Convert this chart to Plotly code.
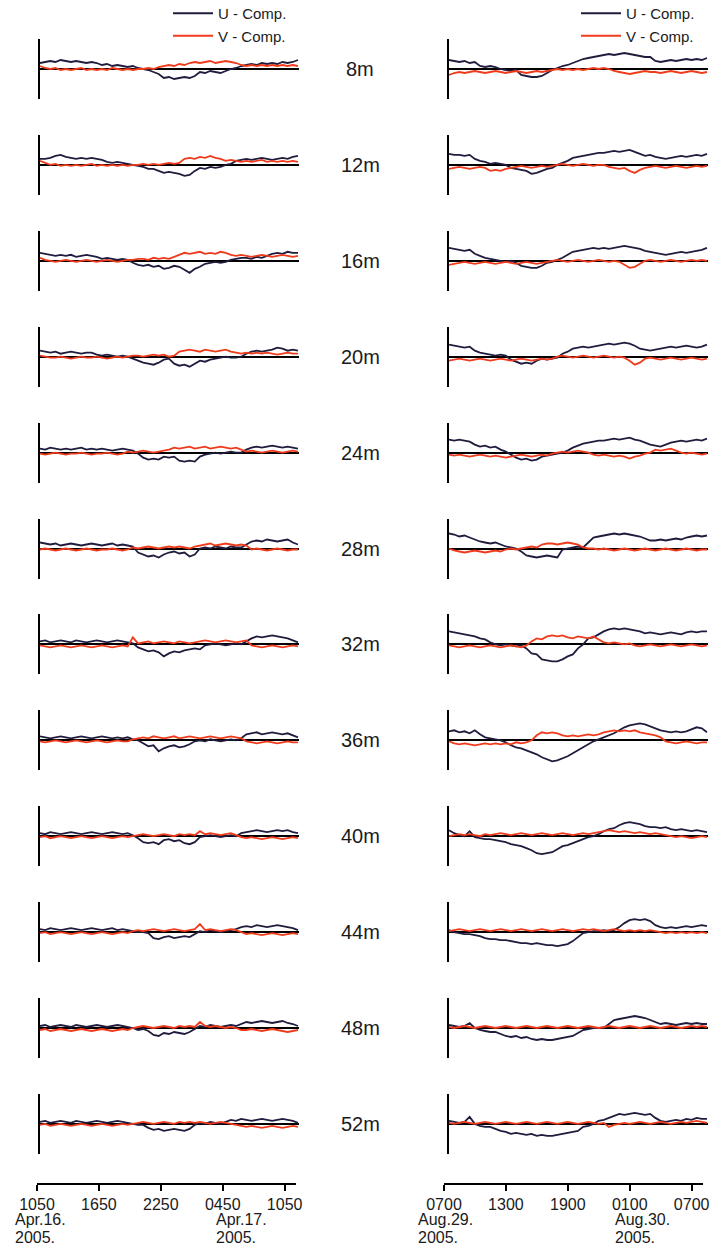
import plotly.graph_objects as go

W, H = 717, 1248

# sample times (hours after first tick) for every series
hours = [0.5 * i for i in range(51)]
depths = ["8m", "12m", "16m", "20m", "24m", "28m", "32m", "36m", "40m", "44m", "48m", "52m"]
tick_hours = [0, 6, 12, 18, 24]
apr_ticktext = ["1050", "1650", "2250", "0450", "1050"]
aug_ticktext = ["0700", "1300", "1900", "0100", "0700"]
apr_dates = [(0, "Apr.16.", "2005."), (18, "Apr.17.", "2005.")]
aug_dates = [(0, "Aug.29.", "2005."), (18, "Aug.30.", "2005.")]
# horizontal nudges (px) of the date blocks, as placed in the original figure
apr_date_shift = [-24, -9]
aug_date_shift = [-28, -17]

# ---- April 16-17 2005 (left column) ----
u_apr_08 = [6,7,8,7,9,8,7,8,7,6, 7,6,4,5,3,4,3,2,3,1, 0,-1,-3,-5,-9,-8,-10,-9,-8,-9, -7,-3,-4,-2,-3,-4,-2,0,1,3, 4,5,4,6,5,6,5,7,6,7,9]
v_apr_08 = [3,1,0,1,-1,0,-1,0,1,-1, 0,-1,0,-1,1,0,-1,0,-1,0, 0,1,0,2,3,4,3,5,4,6, 7,6,7,8,6,7,8,7,6,4, 3,4,3,4,3,4,3,4,3,4,3]
u_apr_12 = [6,6,7,9,10,8,7,6,7,6, 7,6,5,3,2,3,2,1,0,-1, -2,-4,-4,-6,-8,-7,-8,-9,-11,-10, -6,-3,-4,-2,-3,-2,0,1,4,5, 6,5,6,7,6,5,6,7,6,8,9]
v_apr_12 = [4,2,0,1,-1,0,-1,0,-1,0, 1,-1,0,-1,0,-1,0,-1,0,0, 1,0,1,0,1,2,1,2,6,7, 6,8,7,9,7,6,4,5,4,3, 4,3,4,5,3,4,3,4,3,4,3]
u_apr_16 = [8,7,6,5,6,5,6,4,5,6, 5,4,2,3,2,1,2,1,-2,-4, -5,-4,-6,-5,-8,-7,-5,-6,-9,-12, -8,-6,-3,-2,-1,-2,-1,1,2,3, 3,2,4,3,5,7,8,7,9,8,8]
v_apr_16 = [3,1,0,-1,0,1,0,-1,0,1, 0,-1,0,1,0,-1,0,1,1,2, 2,1,3,2,3,2,4,6,8,7, 8,9,7,8,7,9,8,6,5,6, 5,4,5,6,5,4,5,6,5,4,5]
u_apr_20 = [6,5,4,5,3,4,5,4,3,4, 4,2,1,2,1,0,1,0,-2,-4, -6,-7,-8,-6,-3,-2,-7,-9,-8,-10, -7,-4,-5,-3,-2,-1,0,-1,-1,0, 3,5,6,5,6,7,9,8,6,7,6]
v_apr_20 = [1,0,-1,-1,0,-1,-2,-1,0,-1, -1,0,-1,-2,-1,0,-1,0,1,1, 0,1,2,1,2,0,1,5,6,7, 6,5,7,6,5,6,7,5,4,3, 4,3,4,3,4,3,2,3,4,3,3]
u_apr_24 = [4,3,5,4,3,4,3,4,5,3, 4,3,4,3,2,3,4,3,2,-1, -5,-7,-6,-7,-4,-5,-4,-8,-9,-8, -9,-4,-2,-1,0,-1,0,1,0,0, 3,5,6,5,6,7,6,5,6,5,4]
v_apr_24 = [-1,-2,-1,0,-1,-2,-1,-1,0,-1, -2,-1,-1,0,-1,-2,-1,1,0,1, 2,1,0,1,2,3,5,4,5,6, 4,5,6,4,5,6,5,4,5,3, 1,2,1,0,1,2,1,0,1,2,1]
u_apr_28 = [6,5,4,5,3,4,5,4,3,4, 5,4,3,4,5,3,4,3,2,-4, -6,-8,-7,-9,-6,-4,-3,-5,-4,-8, -6,0,1,0,2,1,0,2,1,1, 4,7,8,7,9,8,7,8,9,6,4]
v_apr_28 = [-1,0,-1,-2,-1,0,-1,-2,-1,0, -1,-2,-1,-1,0,-1,-2,-1,1,0, 1,2,1,0,1,2,1,2,1,0, 2,3,4,5,3,4,5,4,3,4, 3,-1,0,-1,-2,-1,0,-1,-2,-1,-1]
u_apr_32 = [3,4,2,3,4,3,2,4,3,2, 3,4,3,2,3,4,3,2,1,-3, -5,-7,-6,-8,-12,-9,-7,-8,-6,-5, -4,-5,-1,0,1,0,-1,0,1,0, 3,6,8,7,8,9,8,7,6,4,2]
v_apr_32 = [-1,-2,-3,-2,-1,-2,-3,-2,-1,-2, -3,-2,-1,-2,-3,-2,-1,-2,7,1, 2,3,1,2,3,2,1,3,2,1, 2,3,4,3,2,3,4,3,2,3, 4,-1,-2,-3,-2,-1,-2,-3,-2,-1,-2]
u_apr_36 = [4,3,2,3,4,3,2,3,4,3, 2,3,4,3,2,3,2,3,1,0, -3,-6,-5,-11,-8,-6,-5,-7,-6,-4, -1,0,-1,1,0,-1,0,1,0,2, 6,7,8,6,7,8,7,6,7,5,3]
v_apr_36 = [-1,-2,-1,0,-1,-2,-1,0,-1,-2, -1,0,-1,-2,-1,0,-1,-1,1,2, 3,2,4,3,2,3,4,2,3,4, 3,2,3,4,3,2,3,4,3,2, -1,-2,-3,-2,-1,-2,-3,-2,-1,-2,-2]
u_apr_40 = [3,2,4,3,2,3,4,3,2,3, 4,3,2,3,4,3,2,3,1,-2, -6,-7,-6,-8,-4,-3,-5,-4,-7,-8, -6,-1,0,1,0,-1,0,1,0,3, 4,5,6,5,4,5,6,5,6,4,3]
v_apr_40 = [-1,0,-2,-1,0,-1,-2,-1,0,-1, -2,-1,0,-1,-2,-1,0,-1,0,1, 2,1,0,1,2,1,0,2,1,2, 1,5,2,3,2,1,2,3,1,-1, -2,-1,-2,-3,-2,-1,-2,-3,-2,-1,-2]
u_apr_44 = [3,2,4,3,2,3,4,3,2,3, 4,3,2,3,4,2,3,2,1,0, 0,-1,-6,-7,-5,-4,-6,-5,-4,-5, -2,1,0,2,1,0,1,2,3,5, 6,5,7,6,5,6,7,6,5,4,2]
v_apr_44 = [-1,0,-2,-1,0,-1,-2,-1,0,-1, -2,-1,0,-1,-2,-1,0,-1,1,2, 1,2,3,2,1,2,3,2,1,2, 3,8,2,3,2,1,2,3,2,0, -2,-1,-2,-3,-2,-1,-2,-3,-2,-1,-2]
u_apr_48 = [2,3,1,2,3,2,1,3,2,1, 2,3,2,1,2,3,2,1,0,-2, -1,-3,-7,-8,-5,-6,-4,-5,-6,-4, -1,2,1,3,2,1,2,3,2,4, 6,5,6,7,6,5,6,7,5,4,2]
v_apr_48 = [-2,-1,-3,-2,-1,-2,-3,-2,-1,-2, -3,-2,-1,-2,-3,-2,-1,-2,0,1, 2,1,0,1,2,1,0,2,1,2, 1,6,2,1,2,1,0,1,0,-2, -2,-1,-2,-3,-2,-1,-2,-3,-4,-3,-2]
u_apr_52 = [2,3,1,2,3,2,1,3,2,1, 2,3,2,1,2,3,2,1,0,-1, -1,-4,-6,-5,-7,-6,-5,-6,-7,-5, -1,1,0,2,1,0,2,4,3,5, 4,3,4,5,4,3,4,5,4,3,1]
v_apr_52 = [-1,0,-2,-1,0,-1,-2,-1,0,-1, -2,-1,0,-1,-2,-1,0,-1,0,1, 2,1,0,1,2,1,0,2,1,2, 1,2,1,0,1,2,1,0,-1,-2, -3,-2,-3,-4,-3,-2,-3,-4,-3,-2,-3]

# ---- August 29-30 2005 (right column) ----
u_aug_08 = [9,8,7,8,6,7,3,2,3,2, 0,-1,-2,-1,-6,-7,-8,-8,-7,-4, -1,1,3,4,6,8,10,11,12,13, 14,15,14,15,16,15,14,13,12,12, 8,7,8,9,8,9,10,9,10,9,11]
v_aug_08 = [-6,-4,-3,-4,-3,-2,-3,-4,-3,-2, -3,-4,-3,-2,-3,-4,-3,-2,-3,-2, -1,0,-1,0,-1,0,-1,0,1,0, 1,0,-2,-3,-4,-5,-4,-3,-2,-3, -3,-4,-3,-2,-3,-4,-3,-2,-3,-4,-3]
u_aug_12 = [11,10,10,9,10,6,4,3,1,2, 1,0,-3,-4,-5,-6,-9,-8,-6,-4, -3,0,2,4,7,8,9,10,11,12, 12,13,14,13,14,15,13,11,9,10, 8,7,6,7,8,9,8,9,10,9,11]
v_aug_12 = [-4,-3,-2,-3,-4,-3,-2,-3,-6,-5, -6,-4,-3,-2,-1,-2,-3,-2,-1,-2, -1,0,1,0,-1,0,1,0,-1,0, 0,-2,-3,-4,-3,-6,-8,-5,-3,-2, -1,-2,-3,-2,-1,-2,-3,-2,-1,-2,-1]
u_aug_16 = [13,12,11,10,11,7,5,3,2,1, 0,-1,0,-2,-5,-6,-7,-7,-5,-2, -1,1,3,6,9,10,11,12,13,12, 13,12,13,14,15,14,13,12,10,9, 8,7,6,7,8,9,8,9,10,11,13]
v_aug_16 = [-4,-3,-2,-1,-2,-3,-2,-1,-2,-3, -2,-1,-2,-3,-2,-1,-2,-3,-2,-1, 0,1,0,-1,0,1,0,-1,0,1, 0,-1,0,-1,-4,-7,-6,-3,0,1, 0,-1,0,1,0,-1,0,1,0,1,0]
u_aug_20 = [12,11,10,9,10,6,4,3,2,1, 2,1,-3,-5,-7,-6,-7,-4,-2,-3, -2,-1,3,5,8,9,10,9,10,11, 12,13,12,13,14,13,11,8,7,6, 7,8,9,10,9,10,11,10,9,10,12]
v_aug_20 = [-4,-3,-2,-3,-4,-3,-2,-3,-4,-3, -2,-3,-4,-3,-2,-3,-4,-3,-2,-3, -2,0,1,0,-1,0,1,0,-1,0, 1,0,-1,0,-1,-4,-8,-6,-2,-1, -2,-3,-2,-1,-2,-3,-2,-1,-2,-3,-2]
u_aug_24 = [13,12,13,12,11,8,6,7,5,6, 3,1,-2,-5,-7,-6,-8,-7,-4,-3, -2,-1,0,2,5,7,9,10,11,12, 12,13,14,13,14,15,13,12,10,8, 7,6,8,10,11,12,11,12,13,12,14]
v_aug_24 = [-2,-3,-2,-3,-4,-3,-2,-3,-4,-3, -4,-5,-4,-3,-2,-3,-4,-3,-2,-3, -1,0,1,0,1,2,1,0,-2,-3, -2,-3,-4,-3,-4,-6,-4,-3,-1,0, 3,2,3,4,2,0,-1,0,-1,-2,-1]
u_aug_28 = [15,14,12,13,11,9,7,6,5,6, 4,2,1,0,-3,-7,-8,-9,-8,-7, -8,-9,-1,0,1,2,1,6,11,12, 13,14,15,14,15,14,13,12,10,8, 8,9,8,9,10,9,11,12,13,12,13]
v_aug_28 = [0,-2,-3,-4,-3,-2,-3,-4,-3,-2, -3,-1,0,-1,0,1,2,1,4,5, 5,4,5,6,5,4,1,0,0,-1, 0,-1,-2,-1,0,-1,-2,-1,0,-1, -2,-1,0,-1,-2,-1,0,-1,-2,-1,-1]
u_aug_32 = [13,12,11,10,9,8,6,5,2,0, -1,0,-1,-2,-1,-4,-9,-10,-15,-16, -17,-17,-15,-12,-10,-4,0,6,7,10, 13,15,16,15,16,15,14,13,11,12, 11,10,11,12,11,10,12,13,12,13,13]
v_aug_32 = [-1,-2,-3,-2,-1,-2,-3,-2,-1,-2, -3,-2,-1,-2,-3,-1,3,6,5,8, 9,8,9,7,6,8,7,6,8,5, 2,1,2,1,0,1,-1,-2,-1,0, -1,-2,-1,0,-1,-2,-1,0,-1,-2,-1]
u_aug_36 = [9,10,8,9,7,10,6,3,2,1, 0,-2,-5,-7,-8,-10,-12,-14,-17,-19, -21,-20,-18,-16,-13,-10,-7,-4,-1,1, 3,5,7,10,13,15,16,17,16,14, 12,10,9,8,9,8,9,11,13,12,8]
v_aug_36 = [-1,-3,-4,-3,-4,-5,-4,-3,-4,-3, -4,-3,-4,-2,-3,-2,0,5,8,7, 8,7,5,4,5,4,5,6,5,6, 8,9,10,9,10,9,10,8,7,6, 5,3,-1,-2,-3,-2,-1,-2,-3,-2,-2]
u_aug_40 = [6,3,1,0,5,-1,-2,-3,-3,-4, -5,-6,-8,-9,-10,-12,-14,-17,-18,-17, -16,-13,-10,-9,-7,-5,-3,-1,0,2, 5,7,8,11,13,14,13,12,10,9, 9,8,9,7,6,7,6,5,6,5,4]
v_aug_40 = [0,1,2,1,2,1,0,2,1,2, 3,2,1,2,3,2,1,2,3,2, 1,2,3,2,1,2,3,2,3,4, 5,6,5,4,5,4,3,4,3,2, 3,2,1,0,-1,0,-1,-2,-1,0,-1]
u_aug_44 = [2,0,-1,-2,-2,-3,-4,-6,-7,-7, -8,-8,-9,-10,-11,-11,-12,-11,-12,-13, -13,-14,-13,-12,-9,-5,-1,0,1,1, 2,1,2,5,9,12,13,12,13,11, 7,5,4,5,4,5,6,5,6,7,6]
v_aug_44 = [1,2,3,2,1,2,3,2,1,2, 3,2,1,2,3,2,1,2,3,2, 1,2,3,2,1,2,3,2,3,2, 1,2,3,2,1,2,1,2,1,2, 1,0,-1,0,-1,0,-1,0,-1,0,-1]
u_aug_48 = [3,2,1,2,5,0,-2,-3,-4,-4, -6,-8,-9,-8,-10,-9,-11,-12,-11,-12, -12,-11,-10,-9,-8,-5,-2,-1,0,0, 0,4,8,9,10,11,12,11,10,8, 6,4,5,4,3,4,5,4,5,4,4]
v_aug_48 = [1,0,1,2,1,0,1,2,1,0, 1,2,1,0,1,2,1,0,1,2, 1,0,1,2,1,0,1,2,1,0, 1,2,1,0,1,2,1,0,1,2, 1,0,1,2,1,0,1,2,1,2,1]
u_aug_52 = [3,2,1,2,7,0,-2,-3,-3,-5, -7,-8,-10,-9,-10,-11,-10,-12,-11,-12, -12,-11,-10,-9,-8,-7,-3,-2,0,3, 4,6,8,10,9,10,11,10,9,10, 6,3,2,3,4,3,5,4,6,5,5]
v_aug_52 = [1,0,1,2,1,0,1,2,1,0, 1,2,1,0,1,2,1,0,1,2, 1,0,1,2,1,0,1,2,1,0, 1,-3,-1,0,1,0,1,2,1,0, 1,2,1,0,1,2,1,2,3,2,1]

u_apr = [u_apr_08, u_apr_12, u_apr_16, u_apr_20, u_apr_24, u_apr_28,
         u_apr_32, u_apr_36, u_apr_40, u_apr_44, u_apr_48, u_apr_52]
v_apr = [v_apr_08, v_apr_12, v_apr_16, v_apr_20, v_apr_24, v_apr_28,
         v_apr_32, v_apr_36, v_apr_40, v_apr_44, v_apr_48, v_apr_52]
u_aug = [u_aug_08, u_aug_12, u_aug_16, u_aug_20, u_aug_24, u_aug_28,
         u_aug_32, u_aug_36, u_aug_40, u_aug_44, u_aug_48, u_aug_52]
v_aug = [v_aug_08, v_aug_12, v_aug_16, v_aug_20, v_aug_24, v_aug_28,
         v_aug_32, v_aug_36, v_aug_40, v_aug_44, v_aug_48, v_aug_52]

U_COLOR = "#1f1c3d"
V_COLOR = "#ef3b1c"
TEXT_COLOR = "#1a1a1a"
FONT = "Liberation Sans, Arial, sans-serif"
XMAX = 25.1


def fx(p):
    return p / W


def fy(p):
    return 1 - p / H


fig = go.Figure()
layout = {}
annotations = []

columns = [
    dict(u=u_apr, v=v_apr, x0=40, x1=299, bx0=37, bx1=296, legend="legend",
         ticktext=apr_ticktext, dates=apr_dates, shifts=apr_date_shift),
    dict(u=u_aug, v=v_aug, x0=449, x1=708, bx0=444, bx1=703, legend="legend2",
         ticktext=aug_ticktext, dates=aug_dates, shifts=aug_date_shift),
]

for c, col in enumerate(columns):
    for k in range(12):
        idx = c * 12 + k + 1
        sfx = "" if idx == 1 else str(idx)
        zy = 69 + 95.9 * k
        layout["xaxis" + sfx] = dict(domain=[fx(col["x0"]), fx(col["x1"])], range=[0, XMAX],
                                     visible=False, anchor="y" + sfx, fixedrange=True,
                                     automargin=False)
        layout["yaxis" + sfx] = dict(domain=[fy(zy + 30), fy(zy - 30)], range=[-30, 30],
                                     anchor="x" + sfx, showline=True, linecolor="black",
                                     linewidth=2, showticklabels=False, ticks="",
                                     showgrid=False, zeroline=True, zerolinecolor="black",
                                     zerolinewidth=1.5, fixedrange=True, automargin=False)
        fig.add_trace(go.Scatter(x=hours, y=col["u"][k], xaxis="x" + sfx, yaxis="y" + sfx,
                                 mode="lines", line=dict(color=U_COLOR, width=1.8),
                                 name="U - Comp.", legend=col["legend"], showlegend=(k == 0),
                                 hoverinfo="skip"))
        fig.add_trace(go.Scatter(x=hours, y=col["v"][k], xaxis="x" + sfx, yaxis="y" + sfx,
                                 mode="lines", line=dict(color=V_COLOR, width=1.8),
                                 name="V - Comp.", legend=col["legend"], showlegend=(k == 0),
                                 hoverinfo="skip"))
        if c == 0:
            annotations.append(dict(text=depths[k], xref="paper", x=fx(360), xanchor="center",
                                    yref="y" + sfx + " domain", y=0.5, yanchor="middle",
                                    showarrow=False,
                                    font=dict(family=FONT, size=20, color=TEXT_COLOR)))

    # bottom time axis for the column
    bidx = 25 + c
    layout[f"xaxis{bidx}"] = dict(domain=[fx(col["bx0"]), fx(col["bx1"])], range=[0, XMAX],
                                  anchor=f"y{bidx}", showline=True, linecolor="black",
                                  linewidth=2, ticks="outside", ticklen=6, tickwidth=2,
                                  tickcolor="black", tickvals=tick_hours,
                                  ticktext=col["ticktext"], showgrid=False, zeroline=False,
                                  tickfont=dict(family=FONT, size=16, color=TEXT_COLOR),
                                  fixedrange=True, automargin=False)
    layout[f"yaxis{bidx}"] = dict(domain=[fy(1183), fy(1183) + 0.004], visible=False,
                                  anchor=f"x{bidx}", range=[0, 1], fixedrange=True,
                                  automargin=False)
    fig.add_trace(go.Scatter(x=tick_hours, y=[0.5] * len(tick_hours), xaxis=f"x{bidx}",
                             yaxis=f"y{bidx}", mode="markers", marker=dict(opacity=0),
                             showlegend=False, hoverinfo="skip"))
    for (t, line1, line2), shift in zip(col["dates"], col["shifts"]):
        for txt, ypx in ((line1, 1219), (line2, 1237)):
            annotations.append(dict(text=txt, xref=f"x{bidx}", x=t, xanchor="left", xshift=shift,
                                    yref="paper", y=fy(ypx), yanchor="middle", showarrow=False,
                                    align="left",
                                    font=dict(family=FONT, size=16, color=TEXT_COLOR)))

legend_common = dict(xanchor="left", yanchor="top", bgcolor="rgba(0,0,0,0)",
                     font=dict(family=FONT, size=15, color=TEXT_COLOR), itemwidth=40,
                     tracegroupgap=0, borderwidth=0)
layout["legend"] = dict(x=fx(168), y=fy(-3), **legend_common)
layout["legend2"] = dict(x=fx(576), y=fy(-3), **legend_common)

fig.update_layout(**layout)
fig.update_layout(width=W, height=H, autosize=False,
                  margin=dict(l=0, r=0, t=0, b=0, pad=0, autoexpand=False),
                  paper_bgcolor="white", plot_bgcolor="white",
                  annotations=annotations, showlegend=True,
                  font=dict(family=FONT, color=TEXT_COLOR))

fig.write_html("out.html")
